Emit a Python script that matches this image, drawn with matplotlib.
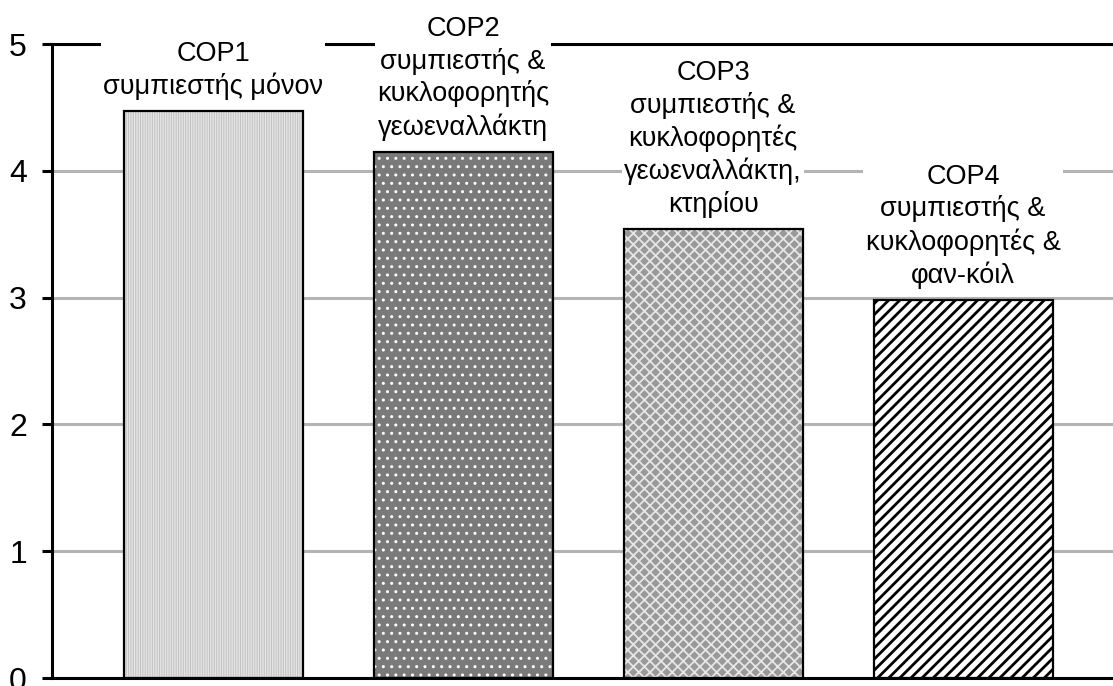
import matplotlib
matplotlib.use("Agg")
import matplotlib.pyplot as plt

# dados do gráfico
categorias = ["COP1", "COP2", "COP3", "COP4"]
valores = [4.47, 4.15, 3.54, 2.98]
rotulos = [
    "\nCOP1\nσυμπιεστής μόνον",
    "COP2\nσυμπιεστής &\nκυκλοφορητής\nγεωεναλλάκτη",
    "COP3\nσυμπιεστής &\nκυκλοφορητές\nγεωεναλλάκτη,\nκτηρίου",
    "COP4\nσυμπιεστής &\nκυκλοφορητές &\nφαν-κόιλ",
]
yticks = [0, 1, 2, 3, 4, 5]

# estilo de cada barra: (cor de fundo, hachura, cor da hachura, espessura)
estilos = [
    ("#c2c2c2", "|||||||", "#e4e4e4", 1.0),
    ("#7a7a7a", "..", "white", 1.0),
    ("#999999", "xxx", "#e6e6e6", 1.3),
    ("white", "///", "black", 2.0),
]

plt.rcParams["font.family"] = ["Liberation Sans", "DejaVu Sans"]

fig = plt.figure(figsize=(11.13, 6.86), dpi=100)
ax = fig.add_axes([52 / 1113, 8 / 686, 1 - 52 / 1113, (678 - 44) / 686])

x = list(range(len(categorias)))
largura = 0.716

for i, (fc, h, hc, lw) in enumerate(estilos):
    with plt.rc_context({"hatch.linewidth": lw, "hatch.color": hc}):
        b = ax.bar(x[i], valores[i], width=largura, color=fc, hatch=h,
                   edgecolor=hc, linewidth=0, zorder=2)
        for p in b:
            if hasattr(p, "set_hatch_linewidth"):
                p.set_hatch_linewidth(lw)
    # contorno preto por cima
    ax.bar(x[i], valores[i], width=largura, color="none",
           edgecolor="black", linewidth=1.6, zorder=2.2)

# rótulos acima das barras, com fundo branco
for i, txt in enumerate(rotulos):
    ax.annotate(txt, xy=(x[i], valores[i]), xytext=(0, 8),
                textcoords="offset points", ha="center", va="bottom",
                fontsize=19.5, linespacing=1.27, zorder=5,
                annotation_clip=False,
                bbox=dict(boxstyle="square,pad=0.08", fc="white", ec="none"))

ax.set_xlim(-0.644, 3.6)
ax.set_ylim(0, 5)
ax.set_yticks(yticks)
ax.set_xticks([])
ax.yaxis.grid(True, color="#b4b4b4", linewidth=2.2, zorder=0)
ax.set_axisbelow(True)

for s in ["left", "bottom", "top"]:
    ax.spines[s].set_color("black")
    ax.spines[s].set_linewidth(2.2)
ax.spines["right"].set_visible(False)
ax.tick_params(axis="y", length=7, width=2.2, pad=11, labelsize=23)

fig.savefig("out.png", dpi=100)
